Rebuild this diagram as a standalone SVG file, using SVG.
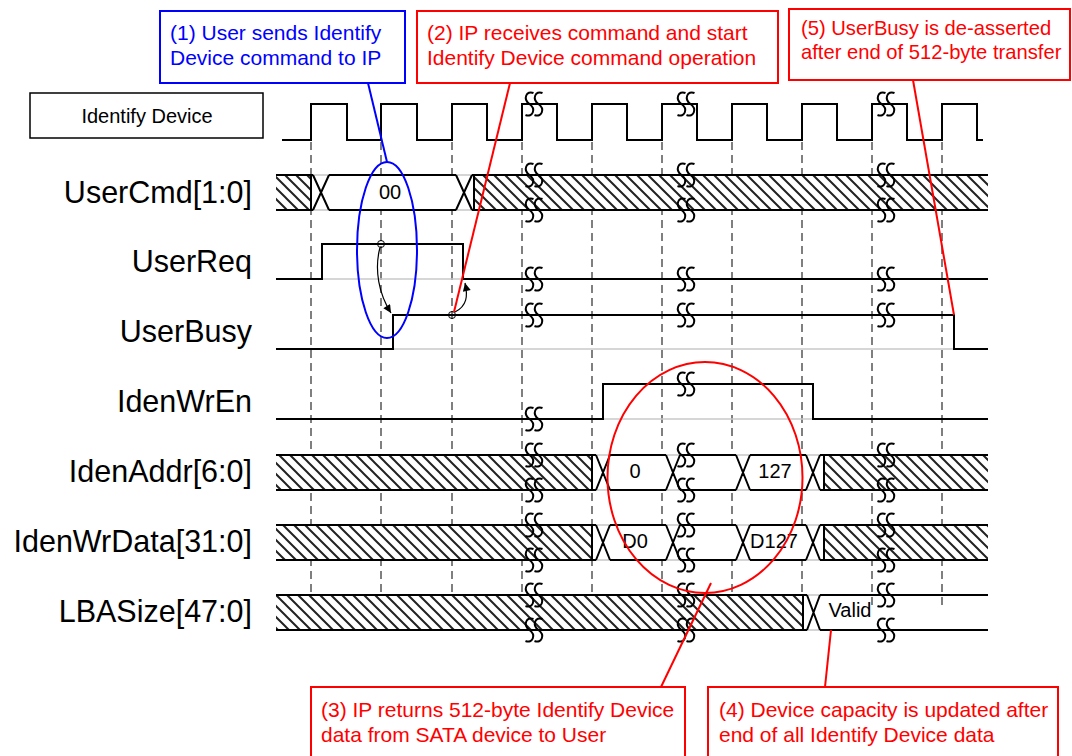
<svg xmlns="http://www.w3.org/2000/svg" width="1072" height="756" viewBox="0 0 1072 756">
<style>
.sig{fill:none;stroke:#000;stroke-width:2}
.base{fill:none;stroke:#c8c8c8;stroke-width:1.5}
.dash{fill:none;stroke:#555;stroke-width:1.5;stroke-dasharray:8 5}
.brk{fill:none;stroke:#000;stroke-width:2}
.lbl{font-family:"Liberation Sans",Arial,sans-serif;font-size:30.5px;fill:#000;text-anchor:end}
.val{font-family:"Liberation Sans",Arial,sans-serif;font-size:20px;fill:#000;text-anchor:middle}
.ann{font-family:"Liberation Sans",Arial,sans-serif;font-size:21px}
.red{stroke:#f00;fill:none;stroke-width:2}
.blue{stroke:#00f;fill:none;stroke-width:2}
.hatch{fill:url(#hatch)}
</style>
<defs>
<pattern id="hatch" patternUnits="userSpaceOnUse" width="11" height="11">
<rect width="11" height="11" fill="#fff"/>
<path d="M0,0 L11,11 M-1,10 L1,12 M10,-1 L12,1" stroke="#222" stroke-width="2"/>
</pattern>
<path id="brk" d="M-0.5,-11 C-7.5,-14 -11.5,-5 -4.5,0 C2.5,5 -1.5,14 -8.5,11 M8.5,-11 C1.5,-14 -2.5,-5 4.5,0 C11.5,5 7.5,14 0.5,11"/>
<marker id="ah" viewBox="0 0 10 10" refX="10" refY="5" markerWidth="10" markerHeight="8" markerUnits="userSpaceOnUse" orient="auto">
<path d="M0,0 L10,5 L0,10 z" fill="#000"/>
</marker>
</defs>
<rect width="1072" height="756" fill="#fff"/>

<g id="gridlines">
<path class="dash" d="M311,142 V605 M381,142 V605 M452,142 V605 M522,142 V605 M592,142 V605 M662,142 V605 M732,142 V605 M802,142 V605 M872,142 V605 M942,142 V605"/>
</g>

<g id="clock">
<rect x="30" y="93" width="233" height="45" fill="#fff" stroke="#000" stroke-width="1.5"/>
<text x="147" y="123" style="font-family:'Liberation Sans',Arial,sans-serif;font-size:20px;text-anchor:middle">Identify Device</text>
<path class="sig" d="M282,140 H311 V104 H347 V140 H381 V104 H417 V140 H452 V104 H487 V140 H522 V104 H557 V140 H592 V104 H627 V140 H662 V104 H697 V140 H732 V104 H767 V140 H802 V104 H837 V140 H872 V104 H907 V140 H942 V104 H977 V140 H983"/>
<use href="#brk" class="brk" x="534" y="104"/>
<use href="#brk" class="brk" x="686" y="104"/>
<use href="#brk" class="brk" x="886" y="104"/>
</g>

<g id="usercmd">
<text class="lbl" x="252" y="203">UserCmd[1:0]</text>
<rect x="312" y="175" width="161" height="35" fill="#fff"/>
<rect class="hatch" x="276" y="175" width="35" height="35"/>
<rect class="hatch" x="474" y="175" width="514" height="35"/>
<path class="base" d="M313,175 H329 M313,210 H329 M456,175 H472 M456,210 H472"/>
<path class="sig" d="M276,175 H313 M329,175 H456 M472,175 H988 M276,210 H313 M329,210 H456 M472,210 H988 M311,175 V210 M474,175 V210 M313,175 L329,210 M313,210 L329,175 M456,175 L472,210 M456,210 L472,175"/>
<text class="val" x="390" y="199">00</text>
<use href="#brk" class="brk" x="534" y="175"/><use href="#brk" class="brk" x="534" y="210"/>
<use href="#brk" class="brk" x="686" y="175"/><use href="#brk" class="brk" x="686" y="210"/>
<use href="#brk" class="brk" x="886" y="175"/><use href="#brk" class="brk" x="886" y="210"/>
</g>

<g id="userreq">
<text class="lbl" x="252" y="272">UserReq</text>
<path class="base" d="M322,279 H463"/>
<path class="sig" d="M276,279 H322 V244 H463 V279 H988"/>
<use href="#brk" class="brk" x="534" y="279"/>
<use href="#brk" class="brk" x="686" y="279"/>
<use href="#brk" class="brk" x="886" y="279"/>
</g>

<g id="userbusy">
<text class="lbl" x="252" y="342">UserBusy</text>
<path class="base" d="M393,349 H954"/>
<path class="sig" d="M276,349 H393 V315 H954 V349 H988"/>
<use href="#brk" class="brk" x="534" y="315"/>
<use href="#brk" class="brk" x="686" y="315"/>
<use href="#brk" class="brk" x="886" y="315"/>
</g>

<g id="idenwren">
<text class="lbl" x="252" y="412">IdenWrEn</text>
<path class="base" d="M603,419 H813"/>
<path class="sig" d="M276,419 H603 V384 H813 V419 H988"/>
<use href="#brk" class="brk" x="534" y="419"/>
<use href="#brk" class="brk" x="686" y="384"/>
</g>

<g id="idenaddr">
<text class="lbl" x="252" y="482">IdenAddr[6:0]</text>
<rect x="593" y="455" width="230" height="35" fill="#fff"/>
<rect class="hatch" x="276" y="455" width="316" height="35"/>
<rect class="hatch" x="824" y="455" width="164" height="35"/>
<path class="base" d="M596,455 H610 M596,490 H610 M666,455 H680 M666,490 H680 M736,455 H750 M736,490 H750 M806,455 H820 M806,490 H820"/>
<path class="sig" d="M276,455 H596 M610,455 H666 M680,455 H736 M750,455 H806 M820,455 H988 M276,490 H596 M610,490 H666 M680,490 H736 M750,490 H806 M820,490 H988 M592,455 V490 M824,455 V490 M596,455 L610,490 M596,490 L610,455 M666,455 L680,490 M666,490 L680,455 M736,455 L750,490 M736,490 L750,455 M806,455 L820,490 M806,490 L820,455"/>
<text class="val" x="635" y="478">0</text>
<text class="val" x="775" y="478">127</text>
<use href="#brk" class="brk" x="534" y="455"/><use href="#brk" class="brk" x="534" y="490"/>
<use href="#brk" class="brk" x="686" y="455"/><use href="#brk" class="brk" x="686" y="490"/>
<use href="#brk" class="brk" x="886" y="455"/><use href="#brk" class="brk" x="886" y="490"/>
</g>

<g id="idenwrdata">
<text class="lbl" x="252" y="552">IdenWrData[31:0]</text>
<rect x="593" y="525" width="230" height="35" fill="#fff"/>
<rect class="hatch" x="276" y="525" width="316" height="35"/>
<rect class="hatch" x="824" y="525" width="164" height="35"/>
<path class="base" d="M596,525 H610 M596,560 H610 M666,525 H680 M666,560 H680 M736,525 H750 M736,560 H750 M806,525 H820 M806,560 H820"/>
<path class="sig" d="M276,525 H596 M610,525 H666 M680,525 H736 M750,525 H806 M820,525 H988 M276,560 H596 M610,560 H666 M680,560 H736 M750,560 H806 M820,560 H988 M592,525 V560 M824,525 V560 M596,525 L610,560 M596,560 L610,525 M666,525 L680,560 M666,560 L680,525 M736,525 L750,560 M736,560 L750,525 M806,525 L820,560 M806,560 L820,525"/>
<text class="val" x="635" y="548">D0</text>
<text class="val" x="774" y="548">D127</text>
<use href="#brk" class="brk" x="534" y="525"/><use href="#brk" class="brk" x="534" y="560"/>
<use href="#brk" class="brk" x="686" y="525"/><use href="#brk" class="brk" x="686" y="560"/>
<use href="#brk" class="brk" x="886" y="525"/><use href="#brk" class="brk" x="886" y="560"/>
</g>

<g id="lbasize">
<text class="lbl" x="252" y="622">LBASize[47:0]</text>
<rect class="hatch" x="276" y="595" width="527" height="35"/>
<path class="base" d="M807,595 H820 M807,630 H820"/>
<path class="sig" d="M276,595 H807 M820,595 H988 M276,630 H807 M820,630 H988 M803,595 V630 M807,595 L820,630 M807,630 L820,595"/>
<text class="val" x="850" y="617">Valid</text>
<use href="#brk" class="brk" x="534" y="595"/><use href="#brk" class="brk" x="534" y="630"/>
<use href="#brk" class="brk" x="686" y="595"/><use href="#brk" class="brk" x="686" y="630"/>
<use href="#brk" class="brk" x="886" y="595"/><use href="#brk" class="brk" x="886" y="630"/>
</g>

<g id="highlights">
<ellipse class="blue" cx="387" cy="250" rx="30" ry="88"/>
<ellipse class="red" cx="705" cy="477.5" rx="97.5" ry="115.5"/>
</g>

<g id="connectors">
<circle cx="381" cy="244" r="3.5" fill="none" stroke="#000" stroke-width="1"/>
<circle cx="452" cy="315" r="3.5" fill="none" stroke="#000" stroke-width="1"/>
<path d="M380,247.5 C374,270 379,294 391,313" fill="none" stroke="#000" stroke-width="1.2" marker-end="url(#ah)"/>
<path d="M455,312 C467,306 468,296 465,283" fill="none" stroke="#000" stroke-width="1.2" marker-end="url(#ah)"/>
<path class="blue" d="M368,83 L387,162"/>
<path class="red" d="M510,83 L454,312"/>
<path class="red" d="M913,80 L954,315"/>
<path class="red" d="M711,583 L661,687"/>
<path class="red" d="M831,630 L825,687"/>
</g>

<g id="note1">
<rect class="blue" x="160" y="11" width="245" height="72" fill="#fff"/>
<text class="ann" fill="#00f" x="170" y="40">(1) User sends Identify</text>
<text class="ann" fill="#00f" x="170" y="65">Device command to IP</text>
</g>
<g id="note2">
<rect class="red" x="417" y="11" width="361" height="72" fill="#fff"/>
<text class="ann" fill="#f00" x="427" y="40">(2) IP receives command and start</text>
<text class="ann" fill="#f00" x="427" y="65">Identify Device command operation</text>
</g>
<g id="note5">
<rect class="red" x="789" y="9" width="281" height="71" fill="#fff"/>
<text class="ann" fill="#f00" x="801" y="35" style="font-size:20.2px">(5) UserBusy is de-asserted</text>
<text class="ann" fill="#f00" x="801" y="59" style="font-size:20.2px">after end of 512-byte transfer</text>
</g>
<g id="note3">
<rect class="red" x="311" y="687" width="374" height="75" fill="#fff"/>
<text class="ann" fill="#f00" x="321" y="717">(3) IP returns 512-byte Identify Device</text>
<text class="ann" fill="#f00" x="321" y="742">data from SATA device to User</text>
</g>
<g id="note4">
<rect class="red" x="708" y="687" width="350" height="75" fill="#fff"/>
<text class="ann" fill="#f00" x="719" y="717">(4) Device capacity is updated after</text>
<text class="ann" fill="#f00" x="719" y="742">end of all Identify Device data</text>
</g>
</svg>
